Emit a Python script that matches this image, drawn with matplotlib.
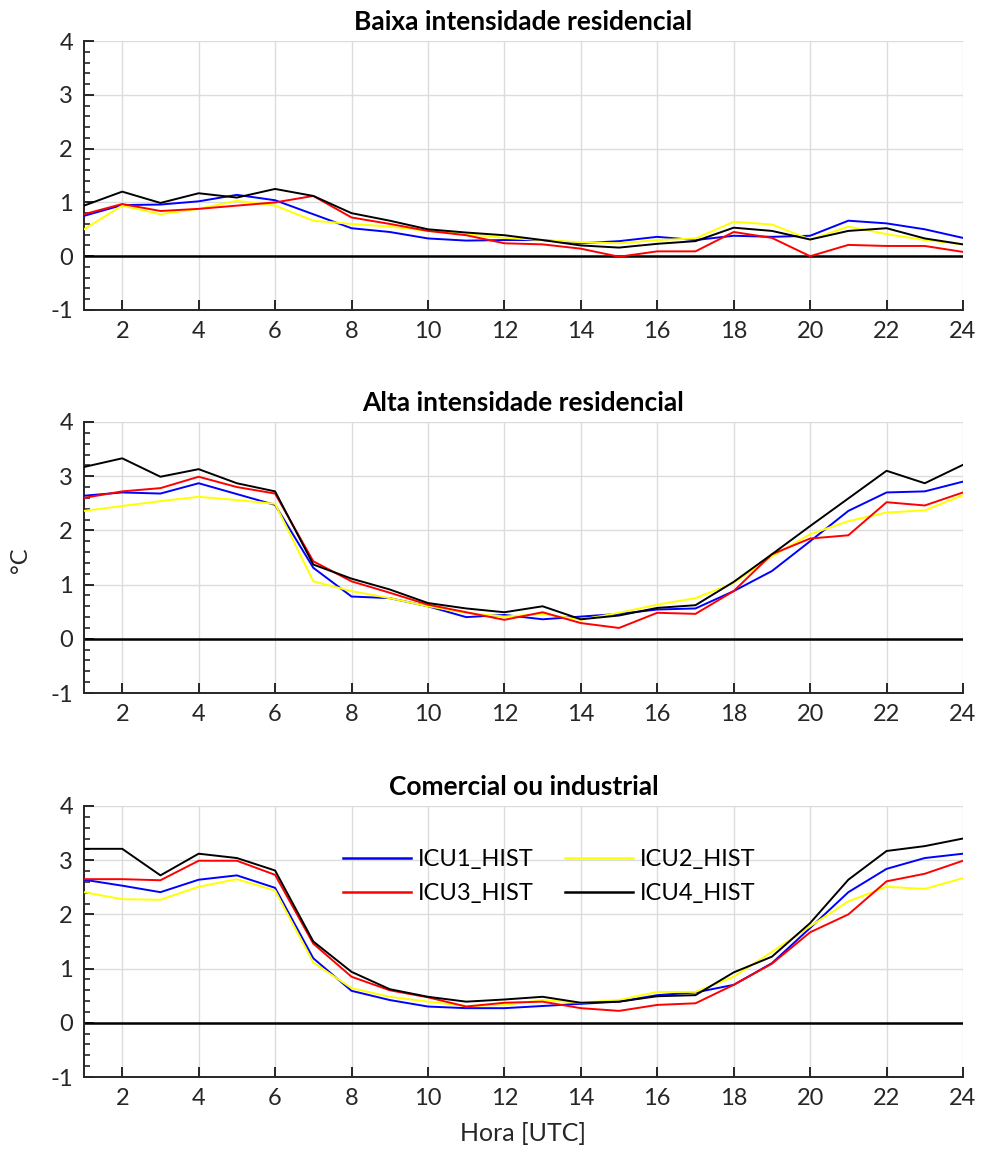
import numpy as np
import matplotlib
matplotlib.use("Agg")
import matplotlib.pyplot as plt
from matplotlib.ticker import MultipleLocator

plt.rcParams['font.family'] = ['Lato', 'DejaVu Sans']
plt.rcParams['axes.unicode_minus'] = False

hours = list(range(1, 25))
titles = ["Baixa intensidade residencial", "Alta intensidade residencial", "Comercial ou industrial"]
series_names = ["ICU1_HIST", "ICU2_HIST", "ICU3_HIST", "ICU4_HIST"]
series_colors = ["#0000ff", "#ffff00", "#ff0000", "#000000"]

# Panel 1: Baixa intensidade residencial
baixa_icu1 = [0.75, 0.95, 0.96, 1.02, 1.14, 1.04, 0.78, 0.52, 0.45, 0.33, 0.29, 0.30,
              0.30, 0.24, 0.28, 0.36, 0.30, 0.38, 0.36, 0.38, 0.66, 0.61, 0.50, 0.34]
baixa_icu2 = [0.50, 0.94, 0.78, 0.88, 1.03, 0.94, 0.66, 0.60, 0.55, 0.47, 0.41, 0.34,
              0.30, 0.26, 0.24, 0.30, 0.33, 0.64, 0.59, 0.31, 0.55, 0.41, 0.30, 0.22]
baixa_icu3 = [0.78, 0.97, 0.84, 0.88, 0.94, 1.00, 1.12, 0.72, 0.60, 0.47, 0.39, 0.24,
              0.22, 0.14, -0.01, 0.09, 0.09, 0.45, 0.34, 0.00, 0.21, 0.19, 0.19, 0.08]
baixa_icu4 = [0.94, 1.20, 0.99, 1.17, 1.09, 1.25, 1.12, 0.80, 0.66, 0.50, 0.44, 0.39,
              0.30, 0.20, 0.16, 0.23, 0.28, 0.53, 0.47, 0.31, 0.47, 0.52, 0.33, 0.22]

# Panel 2: Alta intensidade residencial
alta_icu1 = [2.64, 2.70, 2.68, 2.87, 2.67, 2.47, 1.31, 0.78, 0.75, 0.60, 0.40, 0.44,
             0.36, 0.41, 0.46, 0.54, 0.56, 0.88, 1.25, 1.80, 2.36, 2.70, 2.72, 2.90]
alta_icu2 = [2.36, 2.45, 2.54, 2.62, 2.56, 2.49, 1.06, 0.88, 0.75, 0.60, 0.48, 0.41,
             0.46, 0.35, 0.48, 0.63, 0.75, 1.03, 1.52, 1.93, 2.17, 2.33, 2.37, 2.65]
alta_icu3 = [2.60, 2.72, 2.78, 2.99, 2.80, 2.68, 1.43, 1.06, 0.85, 0.63, 0.49, 0.35,
             0.49, 0.29, 0.20, 0.48, 0.46, 0.88, 1.56, 1.85, 1.91, 2.52, 2.46, 2.70]
alta_icu4 = [3.17, 3.33, 2.99, 3.13, 2.87, 2.72, 1.37, 1.11, 0.91, 0.66, 0.56, 0.49,
             0.60, 0.36, 0.43, 0.57, 0.62, 1.05, 1.56, 2.08, 2.59, 3.10, 2.87, 3.21]

# Panel 3: Comercial ou industrial
com_icu1 = [2.64, 2.53, 2.41, 2.64, 2.72, 2.49, 1.19, 0.59, 0.42, 0.30, 0.27, 0.27,
            0.31, 0.35, 0.39, 0.51, 0.56, 0.70, 1.10, 1.75, 2.41, 2.84, 3.04, 3.12]
com_icu2 = [2.41, 2.28, 2.27, 2.51, 2.65, 2.44, 1.11, 0.64, 0.48, 0.39, 0.31, 0.33,
            0.42, 0.37, 0.42, 0.57, 0.57, 0.85, 1.31, 1.78, 2.24, 2.51, 2.47, 2.67]
com_icu3 = [2.65, 2.65, 2.63, 2.99, 2.99, 2.73, 1.46, 0.85, 0.60, 0.47, 0.30, 0.37,
            0.39, 0.27, 0.22, 0.33, 0.36, 0.70, 1.09, 1.67, 2.00, 2.61, 2.75, 2.99]
com_icu4 = [3.21, 3.21, 2.72, 3.12, 3.04, 2.81, 1.50, 0.94, 0.62, 0.48, 0.39, 0.43,
            0.48, 0.37, 0.39, 0.49, 0.51, 0.93, 1.22, 1.84, 2.64, 3.17, 3.26, 3.40]

panels = [
    [baixa_icu1, baixa_icu2, baixa_icu3, baixa_icu4],
    [alta_icu1, alta_icu2, alta_icu3, alta_icu4],
    [com_icu1, com_icu2, com_icu3, com_icu4],
]

fig = plt.figure(figsize=(9.82, 11.59), dpi=100)
W, H = 982.0, 1159.0
left_px, right_px = 84, 963
panel_px = [(41, 310), (422, 693), (806, 1077)]

spine_col = "#262626"
for i, (top, bot) in enumerate(panel_px):
    ax = fig.add_axes([left_px / W, 1 - bot / H, (right_px - left_px) / W, (bot - top) / H])
    lines = []
    for vals, name, col in zip(panels[i], series_names, series_colors):
        ln, = ax.plot(hours, vals, color=col, lw=1.4, label=name, zorder=3)
        lines.append(ln)
    ax.axhline(0, color="black", lw=1.8, zorder=2)
    ax.set_xlim(1, 24)
    ax.set_ylim(-1, 4)
    ax.xaxis.set_major_locator(MultipleLocator(2))
    ax.yaxis.set_major_locator(MultipleLocator(1))
    ax.yaxis.set_minor_locator(MultipleLocator(0.2))
    ax.grid(True, which="major", color="#dcdcdc", lw=1.0, zorder=0)
    ax.set_axisbelow(True)
    for s in ["top", "right"]:
        ax.spines[s].set_visible(False)
    for s in ["left", "bottom"]:
        ax.spines[s].set_color(spine_col)
        ax.spines[s].set_linewidth(1.4)
    ax.tick_params(axis="both", which="major", direction="in", length=7, width=1.4,
                   color=spine_col, labelsize=17, labelcolor="#262626", pad=8)
    ax.tick_params(axis="y", which="minor", direction="in", length=4, width=1.2, color=spine_col)
    ax.tick_params(axis="x", which="minor", bottom=False)
    ax.set_title(titles[i], fontsize=19, fontweight="bold", pad=8)
    if i == 2:
        handles = [lines[0], lines[2], lines[1], lines[3]]
        ax.legend(handles=handles, labels=[h.get_label() for h in handles], ncol=2,
                  loc="upper left", bbox_to_anchor=(0.27, 0.92), frameon=False,
                  fontsize=17, handlelength=2.9, handletextpad=0.3,
                  columnspacing=1.3, labelspacing=0.55)
        for lh in ax.get_legend().get_lines():
            lh.set_linewidth(1.8)
        ax.set_xlabel("Hora [UTC]", fontsize=18, color="#262626", labelpad=9)

fig.text(20 / W, 1 - 560 / H, "°C", rotation=90, fontsize=17, color="#262626",
         ha="center", va="center")

fig.savefig("out.png", dpi=100)
